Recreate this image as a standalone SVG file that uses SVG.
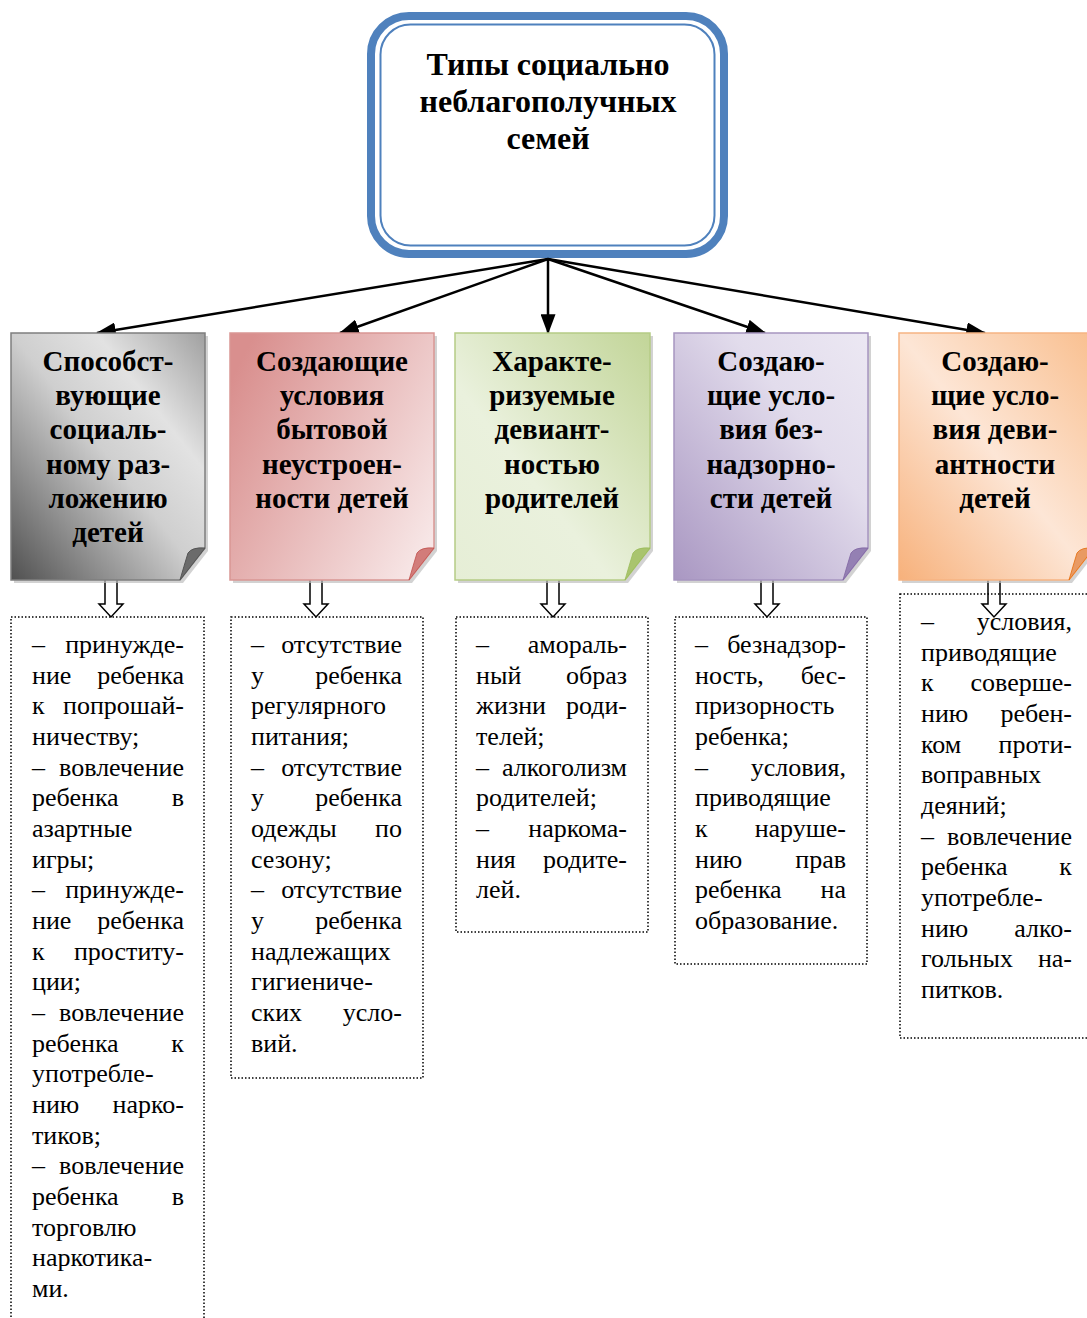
<svg xmlns="http://www.w3.org/2000/svg" width="1087" height="1318" viewBox="0 0 1087 1318">
<style>
.t{font-family:"Liberation Serif","Times New Roman",serif;font-size:26px;fill:#000}
.r{text-anchor:end}
.h{font-family:"Liberation Serif","Times New Roman",serif;font-size:29px;font-weight:bold;text-anchor:middle;fill:#000}
.ti{font-family:"Liberation Serif","Times New Roman",serif;font-size:32px;font-weight:bold;text-anchor:middle;fill:#000}
.dot{fill:none;stroke:#000;stroke-width:1.5;stroke-dasharray:1.5 2}
.conn{stroke:#000;stroke-width:2.5;fill:none}
.ha{fill:#fff;stroke:#000;stroke-width:1.5}
.sh{fill:#bfbfbf;opacity:0.7}
</style>
<defs>
<marker id="ah" markerWidth="8" markerHeight="6" refX="7.5" refY="3" orient="auto" markerUnits="strokeWidth">
<path d="M0,0 L8,3 L0,6 Z" fill="#000"/>
</marker>
<linearGradient id="g1" x1="0" y1="1" x2="1" y2="0"><stop offset="0" stop-color="#505050"/><stop offset="0.5" stop-color="#cfcfcf"/><stop offset="0.72" stop-color="#e2e2e2"/><stop offset="1" stop-color="#a0a0a0"/></linearGradient>
<linearGradient id="g2" x1="0" y1="0.2" x2="1" y2="0.8"><stop offset="0" stop-color="#d98f8e"/><stop offset="1" stop-color="#f7e6e6"/></linearGradient>
<linearGradient id="g3" x1="1" y1="0" x2="0" y2="1"><stop offset="0" stop-color="#c2d598"/><stop offset="0.6" stop-color="#eaf1dd"/><stop offset="1" stop-color="#e6eed6"/></linearGradient>
<linearGradient id="g4" x1="0" y1="1" x2="1" y2="0"><stop offset="0" stop-color="#a997c2"/><stop offset="0.65" stop-color="#e2dcec"/><stop offset="1" stop-color="#ece8f3"/></linearGradient>
<linearGradient id="g5" x1="0" y1="1" x2="1" y2="0"><stop offset="0" stop-color="#f7b17b"/><stop offset="0.5" stop-color="#fde6d6"/><stop offset="1" stop-color="#f9bf8f"/></linearGradient>
</defs>

<g id="root">
<rect x="371" y="16" width="353" height="238" rx="38" fill="#fff" stroke="#4f81bd" stroke-width="8"/>
<rect x="380.5" y="24.5" width="334" height="221" rx="30" fill="none" stroke="#4f81bd" stroke-width="2"/>
<text class="ti" x="548" y="75">Типы социально</text>
<text class="ti" x="548" y="112">неблагополучных</text>
<text class="ti" x="548" y="149">семей</text>
</g>

<g id="connectors">
<line class="conn" x1="548" y1="259" x2="97" y2="333" marker-end="url(#ah)"/>
<line class="conn" x1="548" y1="259" x2="340" y2="333" marker-end="url(#ah)"/>
<line class="conn" x1="548" y1="259" x2="548" y2="333" marker-end="url(#ah)"/>
<line class="conn" x1="548" y1="259" x2="765" y2="333" marker-end="url(#ah)"/>
<line class="conn" x1="548" y1="259" x2="985" y2="333" marker-end="url(#ah)"/>
<path class="ha" d="M105,579 H117 V604 H123 L111,617 L99,604 H105 Z"/>
<path class="ha" d="M310,579 H322 V604 H328 L316,617 L304,604 H310 Z"/>
<path class="ha" d="M547,579 H559 V604 H565 L553,617 L541,604 H547 Z"/>
<path class="ha" d="M761,579 H773 V604 H779 L767,617 L755,604 H761 Z"/>
<path class="ha" d="M988,579 H1000 V604 H1006 L994,617 L982,604 H988 Z"/>
</g>

<g id="card1">
<path class="sh" d="M14,336 H208 V551 L183,583 H14 Z"/>
<path d="M11,333 H205 V548 L180,580 H11 Z" fill="url(#g1)" stroke="#7f7f7f" stroke-width="1.5"/>
<path d="M205,548 Q192,547 188,553 Q184,566 180,580 Z" fill="#6b6b6b" stroke="#555" stroke-width="1"/>
<text class="h" x="108" y="371">Способст-</text>
<text class="h" x="108" y="405">вующие</text>
<text class="h" x="108" y="439">социаль-</text>
<text class="h" x="108" y="474">ному раз-</text>
<text class="h" x="108" y="508">ложению</text>
<text class="h" x="108" y="542">детей</text>
</g>

<g id="card2">
<path class="sh" d="M233,336 H437 V551 L412,583 H233 Z"/>
<path d="M230,333 H434 V548 L409,580 H230 Z" fill="url(#g2)" stroke="#d99694" stroke-width="1.5"/>
<path d="M434,548 Q421,547 417,553 Q413,566 409,580 Z" fill="#d27c7a" stroke="#c0504d" stroke-width="0.8"/>
<text class="h" x="332" y="371">Создающие</text>
<text class="h" x="332" y="405">условия</text>
<text class="h" x="332" y="439">бытовой</text>
<text class="h" x="332" y="474">неустроен-</text>
<text class="h" x="332" y="508">ности детей</text>
</g>

<g id="card3">
<path class="sh" d="M458,336 H653 V551 L628,583 H458 Z"/>
<path d="M455,333 H650 V548 L625,580 H455 Z" fill="url(#g3)" stroke="#b5cc85" stroke-width="1.5"/>
<path d="M650,548 Q637,547 633,553 Q629,566 625,580 Z" fill="#a9c46e" stroke="#9bbb59" stroke-width="0.8"/>
<text class="h" x="552" y="371">Характе-</text>
<text class="h" x="552" y="405">ризуемые</text>
<text class="h" x="552" y="439">девиант-</text>
<text class="h" x="552" y="474">ностью</text>
<text class="h" x="552" y="508">родителей</text>
</g>

<g id="card4">
<path class="sh" d="M677,336 H871 V551 L846,583 H677 Z"/>
<path d="M674,333 H868 V548 L843,580 H674 Z" fill="url(#g4)" stroke="#a795c0" stroke-width="1.5"/>
<path d="M868,548 Q855,547 851,553 Q847,566 843,580 Z" fill="#9480b3" stroke="#8064a2" stroke-width="0.8"/>
<text class="h" x="771" y="371">Создаю-</text>
<text class="h" x="771" y="405">щие усло-</text>
<text class="h" x="771" y="439">вия без-</text>
<text class="h" x="771" y="474">надзорно-</text>
<text class="h" x="771" y="508">сти детей</text>
</g>

<g id="card5">
<path class="sh" d="M902,336 H1097 V551 L1072,583 H902 Z"/>
<path d="M899,333 H1094 V548 L1069,580 H899 Z" fill="url(#g5)" stroke="#f6b482" stroke-width="1.5"/>
<path d="M1094,548 Q1081,547 1077,553 Q1073,566 1069,580 Z" fill="#e99a63" stroke="#e46c0a" stroke-width="0.8"/>
<text class="h" x="995" y="371">Создаю-</text>
<text class="h" x="995" y="405">щие усло-</text>
<text class="h" x="995" y="439">вия деви-</text>
<text class="h" x="995" y="474">антности</text>
<text class="h" x="995" y="508">детей</text>
</g>

<g id="list1">
<rect class="dot" x="11" y="617" width="193" height="710"/>
<text class="t" x="32" y="653">–</text><text class="t r" x="184" y="653">принужде-</text>
<text class="t" x="32" y="684">ние</text><text class="t r" x="184" y="684">ребенка</text>
<text class="t" x="32" y="714">к</text><text class="t r" x="184" y="714">попрошай-</text>
<text class="t" x="32" y="745">ничеству;</text>
<text class="t" x="32" y="776">–</text><text class="t r" x="184" y="776">вовлечение</text>
<text class="t" x="32" y="806">ребенка</text><text class="t r" x="184" y="806">в</text>
<text class="t" x="32" y="837">азартные</text>
<text class="t" x="32" y="868">игры;</text>
<text class="t" x="32" y="898">–</text><text class="t r" x="184" y="898">принужде-</text>
<text class="t" x="32" y="929">ние</text><text class="t r" x="184" y="929">ребенка</text>
<text class="t" x="32" y="960">к</text><text class="t r" x="184" y="960">проститу-</text>
<text class="t" x="32" y="990">ции;</text>
<text class="t" x="32" y="1021">–</text><text class="t r" x="184" y="1021">вовлечение</text>
<text class="t" x="32" y="1052">ребенка</text><text class="t r" x="184" y="1052">к</text>
<text class="t" x="32" y="1082">употребле-</text>
<text class="t" x="32" y="1113">нию</text><text class="t r" x="184" y="1113">нарко-</text>
<text class="t" x="32" y="1144">тиков;</text>
<text class="t" x="32" y="1174">–</text><text class="t r" x="184" y="1174">вовлечение</text>
<text class="t" x="32" y="1205">ребенка</text><text class="t r" x="184" y="1205">в</text>
<text class="t" x="32" y="1236">торговлю</text>
<text class="t" x="32" y="1266">наркотика-</text>
<text class="t" x="32" y="1297">ми.</text>
</g>

<g id="list2">
<rect class="dot" x="231" y="617" width="192" height="461"/>
<text class="t" x="251" y="653">–</text><text class="t r" x="402" y="653">отсутствие</text>
<text class="t" x="251" y="684">у</text><text class="t r" x="402" y="684">ребенка</text>
<text class="t" x="251" y="714">регулярного</text>
<text class="t" x="251" y="745">питания;</text>
<text class="t" x="251" y="776">–</text><text class="t r" x="402" y="776">отсутствие</text>
<text class="t" x="251" y="806">у</text><text class="t r" x="402" y="806">ребенка</text>
<text class="t" x="251" y="837">одежды</text><text class="t r" x="402" y="837">по</text>
<text class="t" x="251" y="868">сезону;</text>
<text class="t" x="251" y="898">–</text><text class="t r" x="402" y="898">отсутствие</text>
<text class="t" x="251" y="929">у</text><text class="t r" x="402" y="929">ребенка</text>
<text class="t" x="251" y="960">надлежащих</text>
<text class="t" x="251" y="990">гигиениче-</text>
<text class="t" x="251" y="1021">ских</text><text class="t r" x="402" y="1021">усло-</text>
<text class="t" x="251" y="1052">вий.</text>
</g>

<g id="list3">
<rect class="dot" x="456" y="617" width="192" height="315"/>
<text class="t" x="476" y="653">–</text><text class="t r" x="627" y="653">амораль-</text>
<text class="t" x="476" y="684">ный</text><text class="t r" x="627" y="684">образ</text>
<text class="t" x="476" y="714">жизни</text><text class="t r" x="627" y="714">роди-</text>
<text class="t" x="476" y="745">телей;</text>
<text class="t" x="476" y="776">–</text><text class="t r" x="627" y="776">алкоголизм</text>
<text class="t" x="476" y="806">родителей;</text>
<text class="t" x="476" y="837">–</text><text class="t r" x="627" y="837">наркома-</text>
<text class="t" x="476" y="868">ния</text><text class="t r" x="627" y="868">родите-</text>
<text class="t" x="476" y="898">лей.</text>
</g>

<g id="list4">
<rect class="dot" x="675" y="617" width="192" height="347"/>
<text class="t" x="695" y="653">–</text><text class="t r" x="846" y="653">безнадзор-</text>
<text class="t" x="695" y="684">ность,</text><text class="t r" x="846" y="684">бес-</text>
<text class="t" x="695" y="714">призорность</text>
<text class="t" x="695" y="745">ребенка;</text>
<text class="t" x="695" y="776">–</text><text class="t r" x="846" y="776">условия,</text>
<text class="t" x="695" y="806">приводящие</text>
<text class="t" x="695" y="837">к</text><text class="t r" x="846" y="837">наруше-</text>
<text class="t" x="695" y="868">нию</text><text class="t r" x="846" y="868">прав</text>
<text class="t" x="695" y="898">ребенка</text><text class="t r" x="846" y="898">на</text>
<text class="t" x="695" y="929">образование.</text>
</g>

<g id="list5">
<rect class="dot" x="900" y="594" width="190" height="444"/>
<text class="t" x="921" y="630">–</text><text class="t r" x="1072" y="630">условия,</text>
<text class="t" x="921" y="661">приводящие</text>
<text class="t" x="921" y="691">к</text><text class="t r" x="1072" y="691">соверше-</text>
<text class="t" x="921" y="722">нию</text><text class="t r" x="1072" y="722">ребен-</text>
<text class="t" x="921" y="753">ком</text><text class="t r" x="1072" y="753">проти-</text>
<text class="t" x="921" y="783">воправных</text>
<text class="t" x="921" y="814">деяний;</text>
<text class="t" x="921" y="845">–</text><text class="t r" x="1072" y="845">вовлечение</text>
<text class="t" x="921" y="875">ребенка</text><text class="t r" x="1072" y="875">к</text>
<text class="t" x="921" y="906">употребле-</text>
<text class="t" x="921" y="937">нию</text><text class="t r" x="1072" y="937">алко-</text>
<text class="t" x="921" y="967">гольных</text><text class="t r" x="1072" y="967">на-</text>
<text class="t" x="921" y="998">питков.</text>
</g>
</svg>
